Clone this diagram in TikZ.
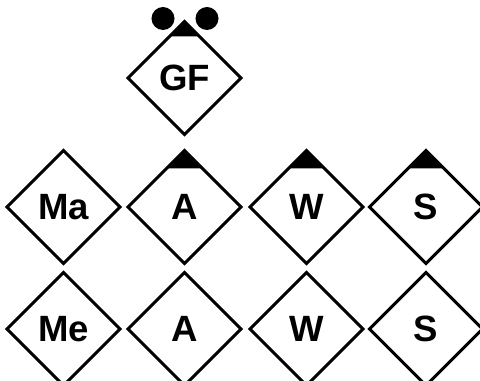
\documentclass[tikz,border=0pt]{standalone}
\usepackage{fontspec}
\setmainfont{Liberation Sans}
\usetikzlibrary{shapes.geometric}

\begin{document}
\begin{tikzpicture}[
    x=0.025cm, y=-0.025cm,
    unit/.style={diamond, aspect=1, draw=black, line width=2.1pt, fill=white,
                 inner sep=0pt, outer sep=0pt, minimum width=2.825cm, minimum height=2.825cm,
                 font=\fontsize{26}{30}\selectfont\bfseries},
    dot/.style={circle, fill=black, inner sep=0pt, minimum size=0.575cm}
]
    \useasboundingbox (0,0) rectangle (480,381);

    \node[unit] (gf) at (184.5,78) {GF};
    \node[dot] (dotl) at (163,18.5) {};
    \node[dot] (dotr) at (207,18.5) {};

    \node[unit] (ma) at (63.5,207) {Ma};
    \node[unit] (a1) at (184.5,207) {A};
    \node[unit] (w1) at (306.5,207) {W};
    \node[unit] (s1) at (426,207) {S};

    \node[unit] (me) at (63.5,329) {Me};
    \node[unit] (a2) at (184.5,329) {A};
    \node[unit] (w2) at (306.5,329) {W};
    \node[unit] (s2) at (426,329) {S};

    \foreach \n/\d in {gf/15, a1/18, w1/18, s1/18}
        \fill (\n.north) -- ++(-\d,\d) -- ++(2*\d,0) -- cycle;
\end{tikzpicture}
\end{document}
